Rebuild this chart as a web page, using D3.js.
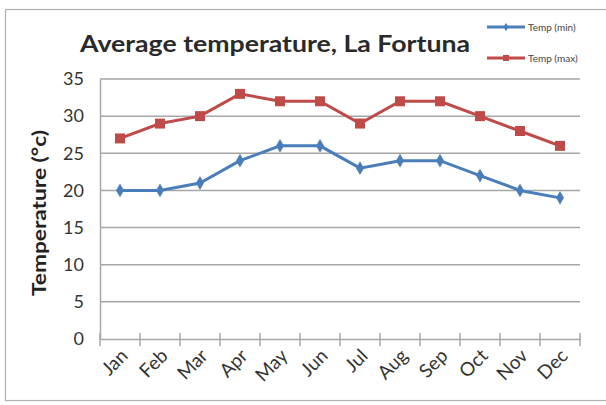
<!DOCTYPE html>
<html><head><meta charset="utf-8">
<script src="https://cdn.jsdelivr.net/npm/d3@7"></script>
<style>html,body{margin:0;padding:0;background:#fff;}svg{display:block;}</style>
</head><body>
<script>
const months = ["Jan","Feb","Mar","Apr","May","Jun","Jul","Aug","Sep","Oct","Nov","Dec"];
const tempMin = [20,20,21,24,26,26,23,24,24,22,20,19];
const tempMax = [27,29,30,33,32,32,29,32,32,30,28,26];
const yTicks = [0,5,10,15,20,25,30,35];
const seriesNames = ["Temp (min)","Temp (max)"];

const W = 606, H = 405;
const svg = d3.select("body").append("svg").attr("width", W).attr("height", H);
const font = "Lato, 'Open Sans', sans-serif";

// chart frame
svg.append("rect").attr("x",5.5).attr("y",9.5).attr("width",W+10).attr("height",391)
  .attr("fill","#fff").attr("stroke","#b0b0b0").attr("stroke-width",1.2);

const x = d3.scaleBand().domain(months).range([100,580]);
const y = d3.scaleLinear().domain([0,35]).range([339,79]);

// gridlines
svg.append("g").selectAll("line").data(yTicks.filter(d=>d>0)).join("line")
  .attr("x1",100).attr("x2",580).attr("y1",d=>y(d)).attr("y2",d=>y(d))
  .attr("stroke","#a6a6a6").attr("stroke-width",1.5);

// y axis
const yAxis = svg.append("g").attr("transform","translate(100,0)")
  .call(d3.axisLeft(y).tickValues(yTicks).tickSize(0).tickPadding(16));
yAxis.select(".domain").attr("stroke","#a6a6a6").attr("stroke-width",1.5);
yAxis.selectAll("text").attr("font-family",font).attr("font-size",18).attr("fill","#333");

// x axis
const xAxis = svg.append("g").attr("transform","translate(0,339)")
  .call(d3.axisBottom(x).tickSize(0).tickFormat(""));
xAxis.select(".domain").attr("stroke","#a6a6a6").attr("stroke-width",1.5);
const bounds = months.map(m=>x(m)).concat([x.range()[1]]);
svg.append("g").selectAll("line").data(bounds).join("line")
  .attr("x1",d=>d).attr("x2",d=>d).attr("y1",333).attr("y2",346)
  .attr("stroke","#a6a6a6").attr("stroke-width",1.5);
svg.append("g").selectAll("text").data(months).join("text")
  .attr("transform",d=>`translate(${x(d)+x.bandwidth()/2+9},357) rotate(-45)`)
  .attr("text-anchor","end").attr("font-family",font).attr("font-size",19).attr("fill","#333")
  .text(d=>d);

// lines
const cx = i => x(months[i]) + x.bandwidth()/2;
const line = d3.line().x((d,i)=>cx(i)).y(d=>y(d));
const blue = "#4a7ebb", red = "#be4b48";
svg.append("path").datum(tempMin).attr("d",line).attr("fill","none").attr("stroke",blue).attr("stroke-width",3);
svg.append("path").datum(tempMax).attr("d",line).attr("fill","none").attr("stroke",red).attr("stroke-width",3);

const diamond = d3.symbol().type(d3.symbolDiamond).size(55);
svg.append("g").selectAll("path").data(tempMin).join("path")
  .attr("d",diamond).attr("transform",(d,i)=>`translate(${cx(i)},${y(d)})`).attr("fill",blue);
svg.append("g").selectAll("rect").data(tempMax).join("rect")
  .attr("x",(d,i)=>cx(i)-5).attr("y",d=>y(d)-5).attr("width",10).attr("height",10).attr("fill",red);

// title
svg.append("text").attr("x",80).attr("y",52).attr("font-family",font).attr("font-weight","bold")
  .attr("font-size",23).attr("fill","#2a2a2a").attr("textLength",390).attr("lengthAdjust","spacingAndGlyphs")
  .text("Average temperature, La Fortuna");

// y label
svg.append("text").attr("transform","translate(46,213) rotate(-90)").attr("text-anchor","middle")
  .attr("font-family",font).attr("font-weight","bold").attr("font-size",18).attr("fill","#222")
  .attr("textLength",166).attr("lengthAdjust","spacingAndGlyphs")
  .text("Temperature (°c)");

// legend
const leg = svg.append("g");
const legY = [27,58];
[blue,red].forEach((c,i)=>{
  leg.append("line").attr("x1",487).attr("x2",525).attr("y1",legY[i]).attr("y2",legY[i]).attr("stroke",c).attr("stroke-width",3);
  if(i===1) leg.append("rect").attr("x",503).attr("y",legY[i]-3).attr("width",6).attr("height",6).attr("fill",red);
  else leg.append("path").attr("d",d3.symbol().type(d3.symbolDiamond).size(20)).attr("transform",`translate(506,${legY[i]})`).attr("fill",blue);
  leg.append("text").attr("x",528).attr("y",legY[i]+3.5).attr("font-family",font).attr("font-size",10)
    .attr("fill","#444").text(seriesNames[i]);
});
</script>
</body></html>
